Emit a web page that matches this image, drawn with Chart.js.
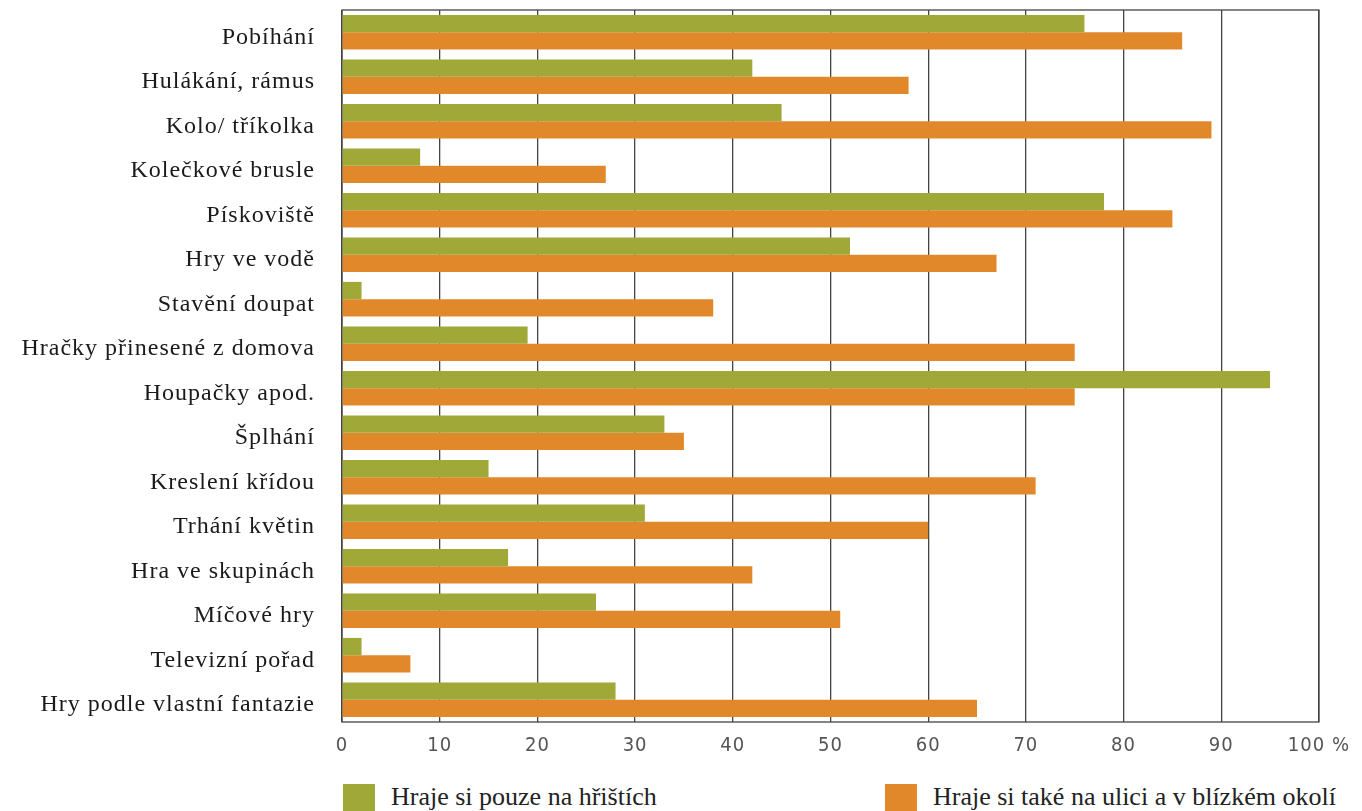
<!DOCTYPE html>
<html>
<head>
<meta charset="utf-8">
<script src="https://cdn.jsdelivr.net/npm/chart.js@4"></script>
<style>
  html, body { margin:0; padding:0; background:#fff; }
  #wrap { position:relative; width:1362px; height:811px; overflow:hidden; }
  #box { position:absolute; left:0; top:0; width:1362px; height:770px; }
  .leg { position:absolute; top:783px; height:28px; display:flex; align-items:center; white-space:nowrap;
         font-family:"Liberation Serif", "Times New Roman", serif; font-size:26px; color:#222; }
  .leg .sw { width:32px; height:30px; margin-right:16px; flex:none; position:relative; top:2px; }
</style>
</head>
<body>
<div id="wrap">
  <div id="box"><canvas id="chart"></canvas></div>
  <div class="leg" id="leg0" style="left:343px"></div>
  <div class="leg" id="leg1" style="left:885px"></div>
</div>
<script>
const categories = [
  'Pobíhání', 'Hulákání, rámus', 'Kolo/ tříkolka', 'Kolečkové brusle', 'Pískoviště',
  'Hry ve vodě', 'Stavění doupat', 'Hračky přinesené z domova', 'Houpačky apod.',
  'Šplhání', 'Kreslení křídou', 'Trhání květin', 'Hra ve skupinách', 'Míčové hry',
  'Televizní pořad', 'Hry podle vlastní fantazie'
];
const seriesNames = ['Hraje si pouze na hřištích', 'Hraje si také na ulici a v blízkém okolí'];
const onlyPlayground = [76, 42, 45, 8, 78, 52, 2, 19, 95, 33, 15, 31, 17, 26, 2, 28];
const alsoStreet     = [86, 58, 89, 27, 85, 67, 38, 75, 75, 35, 71, 60, 42, 51, 7, 65];
const xTicks = [0, 10, 20, 30, 40, 50, 60, 70, 80, 90, 100];

const colors = ['#a0a838', '#e1892a'];

// wider letter spacing, like the printed original
const spacing = {
  id: 'spacing',
  beforeLayout(c){ c.ctx.letterSpacing = '1px'; },
  beforeDraw(c){ c.ctx.letterSpacing = '1px'; }
};

// box around the plot area
const frame = {
  id: 'frame',
  beforeDatasetsDraw(c){
    const a = c.chartArea, ctx = c.ctx;
    ctx.save();
    ctx.strokeStyle = '#444';
    ctx.lineWidth = 1.3;
    ctx.strokeRect(a.left, a.top, a.right - a.left, a.bottom - a.top);
    ctx.restore();
  }
};

new Chart(document.getElementById('chart'), {
  type: 'bar',
  data: {
    labels: categories,
    datasets: [
      { label: seriesNames[0], data: onlyPlayground, backgroundColor: colors[0] },
      { label: seriesNames[1], data: alsoStreet, backgroundColor: colors[1] }
    ]
  },
  options: {
    indexAxis: 'y',
    responsive: true,
    maintainAspectRatio: false,
    animation: false,
    layout: { padding: { top: 10, right: 42, left: 0, bottom: 0 } },
    datasets: { bar: { barPercentage: 1, categoryPercentage: 0.78 } },
    plugins: { legend: { display: false }, tooltip: { enabled: false } },
    scales: {
      x: {
        min: 0, max: 100,
        afterBuildTicks(s){ s.ticks = xTicks.map(v => ({ value: v })); },
        afterFit(s){ s.height = 48; },
        border: { display: false },
        grid: { color: '#444', lineWidth: 1.3, drawTicks: false },
        ticks: {
          padding: 12,
          color: '#555',
          font: { family: '"DejaVu Sans Condensed", "DejaVu Sans", sans-serif', size: 20, weight: 300 },
          callback: v => v === 100 ? '100 %' : v
        }
      },
      y: {
        afterFit(s){ s.width = 342; s.paddingTop = 0; s.paddingBottom = 0; },
        border: { display: false },
        grid: { display: false, drawTicks: false },
        ticks: {
          padding: 27,
          labelOffset: 5,
          color: '#1a1a1a',
          font: { family: '"Liberation Serif", "Times New Roman", serif', size: 24 }
        }
      }
    }
  },
  plugins: [spacing, frame]
});

// legend under the chart
seriesNames.forEach((name, i) => {
  const el = document.getElementById('leg' + i);
  el.innerHTML = '<span class="sw" style="background:' + colors[i] + '"></span><span>' + name + '</span>';
});
</script>
</body>
</html>
